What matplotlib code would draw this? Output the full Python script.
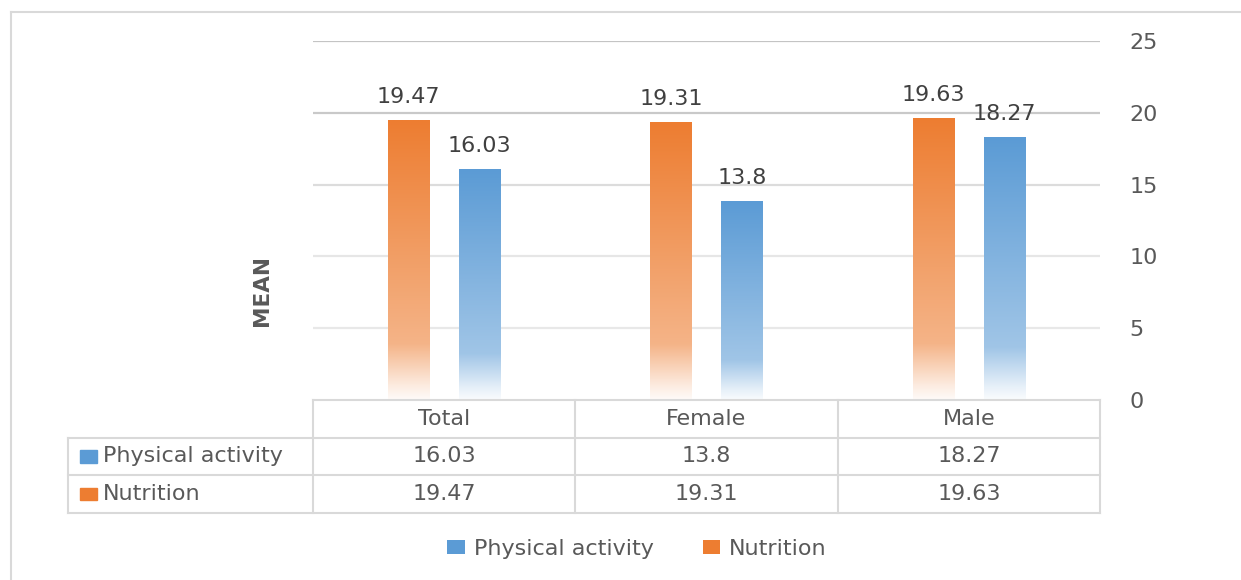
import numpy as np
import matplotlib
matplotlib.use("Agg")
import matplotlib.pyplot as plt
from matplotlib.patches import Patch
from matplotlib.lines import Line2D
from matplotlib.colors import to_rgb

categories = ["Total", "Female", "Male"]
series_names = ["Physical activity", "Nutrition"]
physical_activity = [16.03, 13.8, 18.27]
nutrition = [19.47, 19.31, 19.63]
y_ticks = [0, 5, 10, 15, 20, 25]

ORANGE = "#ED7D31"
BLUE = "#5B9BD5"
TXT = "#595959"
LBL = "#404040"
GRID = "#d9d9d9"
FS = 16

plt.rcParams["font.family"] = ["DejaVu Sans"]

W, H = 1241, 580
fig = plt.figure(figsize=(W / 100, H / 100), dpi=100)

def fx(px):
    return px / W

def fy(py):
    return 1 - py / H

# main axes: x 313..1100 px, y 41 (25) .. 400 (0)
ax = fig.add_axes([fx(313), fy(400), fx(1100) - fx(313), fy(41) - fy(400)])
ax.set_xlim(-0.5, 2.5)
ax.set_ylim(0, 25)
for s in ax.spines.values():
    s.set_visible(False)
ax.set_xticks([])
ax.yaxis.tick_right()
ax.set_yticks(y_ticks)
ax.set_yticklabels([str(t) for t in y_ticks])
ax.tick_params(axis="y", length=0, pad=21, labelsize=FS, labelcolor=TXT)
for lab in ax.get_yticklabels():
    lab.set_horizontalalignment("left")

grid_colors = {5: "#e8e8e8", 10: "#e6e6e6", 15: "#dcdcdc", 20: "#c9c9c9", 25: "#c4c4c4"}
for t in y_ticks[1:]:
    ax.axhline(t, color=grid_colors[t], lw=1.6, zorder=0)

x = np.arange(len(categories))
off = 0.135
bw = 0.157

def gradient_img(color):
    base = np.array(to_rgb(color))
    t = np.linspace(0, 1, 256)  # 0 bottom, 1 top
    m = np.interp(t, [0.0, 0.05, 0.2, 1.0], [0.97, 0.85, 0.42, 0.0])
    img = base[None, :] * (1 - m[:, None]) + np.ones(3)[None, :] * m[:, None]
    return img[:, None, :]

def draw_bars(xpos, vals, color):
    bars = ax.bar(xpos, vals, width=bw, color="none", edgecolor="none", zorder=2)
    img = gradient_img(color)
    for b in bars:
        x0, w, h = b.get_x(), b.get_width(), b.get_height()
        ax.imshow(img, extent=[x0, x0 + w, 0, h], origin="lower",
                  aspect="auto", zorder=2, interpolation="bilinear")
    for b, v in zip(bars, vals):
        ax.annotate(f"{v:g}", (b.get_x() + b.get_width() / 2, b.get_height()),
                    xytext=(0, 12.5), textcoords="offset points",
                    ha="center", va="baseline", fontsize=FS, color=LBL)
    return bars

draw_bars(x - off, nutrition, ORANGE)
draw_bars(x + off, physical_activity, BLUE)
ax.set_xlim(-0.5, 2.5)
ax.set_ylim(0, 25)

# MEAN label
fig.text(fx(262), fy(291), "MEAN", rotation=90, ha="center", va="center",
         fontsize=15.5, color=TXT, fontweight="bold")

# data table
px_per_unit = (1100 - 313) / 3.0
left_unit = -0.5 - (313 - 68) / px_per_unit
axt = fig.add_axes([fx(68), fy(513), fx(1100) - fx(68), fy(400) - fy(513)])
axt.set_xlim(left_unit, 2.5)
axt.set_ylim(3, 0)
axt.axis("off")
lc = GRID
lw = 1.5
axt.plot([-0.5, 2.5], [0, 0], color=lc, lw=lw, clip_on=False)
for r in [1, 2, 3]:
    axt.plot([left_unit, 2.5], [r, r], color=lc, lw=lw, clip_on=False)
axt.plot([left_unit, left_unit], [1, 3], color=lc, lw=lw, clip_on=False)
for c in [-0.5, 0.5, 1.5, 2.5]:
    axt.plot([c, c], [0, 3], color=lc, lw=lw, clip_on=False)
for i, cat in enumerate(categories):
    axt.text(i, 0.5, cat, ha="center", va="center", fontsize=FS, color=TXT)
rows = [(series_names[0], physical_activity, BLUE), (series_names[1], nutrition, ORANGE)]
for r, (name, vals, col) in enumerate(rows, start=1):
    for i, v in enumerate(vals):
        axt.text(i, r + 0.5, f"{v:g}", ha="center", va="center", fontsize=FS, color=TXT)
    sq_w = 17 / px_per_unit
    sx = left_unit + 12 / px_per_unit
    axt.add_patch(plt.Rectangle((sx, r + 0.5 - 0.16), sq_w, 0.32, color=col, clip_on=False))
    axt.text(sx + sq_w + 6 / px_per_unit, r + 0.5, name, ha="left", va="center",
             fontsize=FS, color=TXT)

# legend
handles = [Patch(facecolor=BLUE, edgecolor="none"), Patch(facecolor=ORANGE, edgecolor="none")]
leg = fig.legend(handles, series_names, loc="center", bbox_to_anchor=(fx(637), fy(549)),
                 ncol=2, frameon=False, fontsize=FS, handlelength=0.8, handleheight=0.55,
                 handletextpad=0.4, columnspacing=2.2)
for t in leg.get_texts():
    t.set_color(TXT)

# outer frame
fig.add_artist(Line2D([fx(11), fx(11)], [fy(12), 0], color="#d9d9d9", lw=1.5))
fig.add_artist(Line2D([fx(11), 1], [fy(12), fy(12)], color="#d9d9d9", lw=1.5))

fig.savefig("out.png", dpi=100, facecolor="white")
